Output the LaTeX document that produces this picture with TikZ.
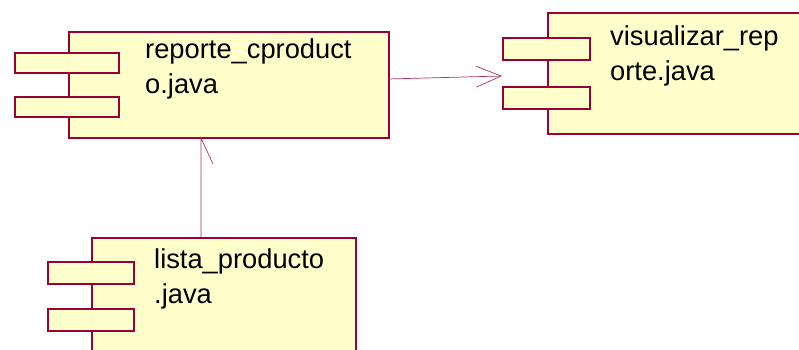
\documentclass[tikz,border=0pt]{standalone}
\usepackage{fontspec}
\setmainfont{Liberation Sans}
\usetikzlibrary{arrows.meta}
\definecolor{umlborder}{HTML}{990033}
\definecolor{umlfill}{HTML}{FFFFCC}
\definecolor{umlline}{HTML}{B03060}
\tikzset{
  compbox/.style={draw=umlborder, fill=umlfill, line width=2pt, rectangle, inner sep=0pt, anchor=north west},
  portbox/.style={draw=umlborder, fill=umlfill, line width=2pt, rectangle, inner sep=0pt, anchor=north west},
  comptext/.style={anchor=base west, align=left, inner sep=0pt, font=\fontsize{27.3}{34.5}\selectfont, text=black},
  dep/.style={draw=umlline, line width=0.7pt},
}
\begin{document}
\begin{tikzpicture}[x=1pt,y=-1pt]
\useasboundingbox (0,0) rectangle (799,350);
% component 1
\node[compbox, minimum width=320pt, minimum height=106pt] (c1) at (68,31) {};
\node[portbox, minimum width=104pt, minimum height=20pt] (c1a) at (14,52) {};
\node[portbox, minimum width=104pt, minimum height=20pt] (c1b) at (14,96) {};
\node[comptext] (t1) at (145,93) {reporte\_cproduct\\o.java};
% component 2
\node[compbox, minimum width=270pt, minimum height=121pt] (c2) at (547,12) {};
\node[portbox, minimum width=87pt, minimum height=22pt] (c2a) at (502,37) {};
\node[portbox, minimum width=87pt, minimum height=22pt] (c2b) at (502,86) {};
\node[comptext] (t2) at (610,80.5) {visualizar\_rep\\orte.java};
% component 3
\node[compbox, minimum width=264pt, minimum height=130pt] (c3) at (91,237) {};
\node[portbox, minimum width=86pt, minimum height=22pt] (c3a) at (47,261) {};
\node[portbox, minimum width=86pt, minimum height=22pt] (c3b) at (47,308) {};
\node[comptext] (t3) at (154,303) {lista\_producto\\.java};
% dependency c1 -> c2
\coordinate (h1) at (388,79);
\coordinate (h2) at (502,76);
\draw[dep, -{Straight Barb[length=25pt,width=21pt]}] (h1) -- (h2);
% dependency c3 -> c1
\coordinate (v1) at (201,237);
\coordinate (v2) at (201,138);
\coordinate (v3) at (213,164);
\draw[dep] (v1) -- (v2) -- (v3);
\end{tikzpicture}
\end{document}
